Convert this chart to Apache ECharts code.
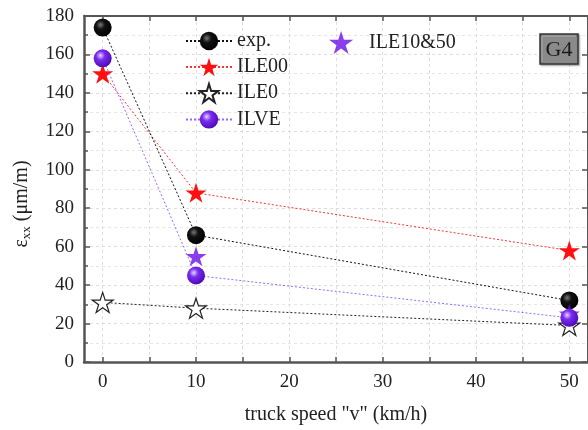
<!DOCTYPE html>
<html><head><meta charset="utf-8">
<script src="https://cdn.jsdelivr.net/npm/echarts@6/dist/echarts.min.js"></script>
<style>html,body{margin:0;padding:0;background:#fff}#c{width:588px;height:430px}</style>
</head><body><div id="c"></div>
<script>
const speeds = [0, 10, 50];
const expVals = [174, 66, 32];
const ile00Vals = [150, 88, 58];
const ile0Vals = [31, 28, 19];
const ilveVals = [158, 45, 23];
const ile1050Speeds = [10, 50];
const ile1050Vals = [55, 25];
const xTicks = [0, 10, 20, 30, 40, 50];
const xMinor = [0, 5, 10, 15, 20, 25, 30, 35, 40, 45, 50];

const STAR = 'path://M50 0 L61.2 34.6 L97.6 34.5 L68.1 55.9 L79.4 90.5 L50 69 L20.6 90.5 L31.9 55.9 L2.4 34.5 L38.8 34.6 Z';
const FONT = 'Liberation Serif';
const pairs = (xs, ys) => xs.map((x, i) => [x, ys[i]]);
const sphere = (light, mid, dark) => ({type:'radial', x:0.38, y:0.35, r:0.7,
  colorStops:[{offset:0,color:light},{offset:0.35,color:mid},{offset:1,color:dark}]});

const chart = echarts.init(document.getElementById('c'));
const axisCol = '#555';
chart.setOption({
  animation:false,
  textStyle:{fontFamily:FONT},
  grid:{left:84, right:-4, top:16, bottom:67},
  xAxis:[{
    type:'value', min:-2, max:52, position:'bottom',
    name:'truck speed "v" (km/h)', nameLocation:'middle', nameGap:43,
    nameTextStyle:{fontFamily:FONT, fontSize:20, color:'#222'},
    axisLine:{show:true, onZero:false, lineStyle:{color:axisCol, width:2.5}},
    axisTick:{show:true, inside:true, length:5, customValues:xMinor, lineStyle:{color:axisCol, width:1.5}},
    axisLabel:{customValues:xTicks, fontFamily:FONT, fontSize:19, color:'#222', margin:11},
    splitLine:{show:true, lineStyle:{color:'#ddd', type:[3,3], width:1}}
  },{
    type:'value', min:-2, max:52, position:'top',
    axisLine:{show:true, onZero:false, lineStyle:{color:axisCol, width:2}},
    axisTick:{show:true, inside:true, length:5, customValues:xMinor, lineStyle:{color:axisCol, width:1.5}},
    axisLabel:{show:false}, splitLine:{show:false}
  }],
  yAxis:[{
    type:'value', min:0, max:180, interval:20, position:'left',
    name:'{e|ε}{s|xx}{e| (μm/m)}', nameLocation:'middle', nameGap:51, nameRotate:90,
    nameTextStyle:{padding:[0,30,0,0], rich:{
      e:{fontFamily:FONT, fontSize:20, color:'#222'},
      s:{fontFamily:FONT, fontSize:13, color:'#222', verticalAlign:'bottom', padding:[9,0,0,0]}
    }},
    axisLine:{show:true, onZero:false, lineStyle:{color:axisCol, width:2.5}},
    axisTick:{show:true, inside:true, length:6, lineStyle:{color:axisCol, width:1.5}},
    minorTick:{show:true, splitNumber:2, length:4, lineStyle:{color:axisCol, width:1.5}},
    axisLabel:{fontFamily:FONT, fontSize:19, color:'#222', margin:10},
    splitLine:{show:true, lineStyle:{color:'#ddd', type:[3,3], width:1}},
    minorSplitLine:{show:true, lineStyle:{color:'#e6e6e6', type:[3,3], width:1}}
  },{
    type:'value', min:0, max:180, interval:20, position:'right',
    axisLine:{show:true, onZero:false, lineStyle:{color:axisCol, width:2}},
    axisTick:{show:true, inside:true, length:6, lineStyle:{color:axisCol, width:1.5}},
    axisLabel:{show:false}, splitLine:{show:false}
  }],
  legend:[{
    orient:'vertical', left:180, top:26, itemWidth:46, itemHeight:23, itemGap:6,
    textStyle:{fontFamily:FONT, fontSize:20, color:'#222'},
    data:['exp.','ILE00','ILE0','ILVE']
  },{
    orient:'vertical', left:324, top:26, itemWidth:46, itemHeight:23,
    textStyle:{fontFamily:FONT, fontSize:20, color:'#222'},
    data:['ILE10&50']
  }],
  graphic:[
    {type:'rect', x:540, y:34, shape:{x:0,y:0,width:38,height:30},
     style:{fill:'#8a8a8a', stroke:'#3a3a3a', lineWidth:1.5, shadowBlur:2, shadowColor:'rgba(0,0,0,0.35)', shadowOffsetX:1, shadowOffsetY:1}, z:10},
    {type:'polyline', x:540, y:34, shape:{points:[[2,28],[2,2],[36,2]]}, style:{stroke:'#b8b8b8', lineWidth:1, fill:null}, z:11},
    {type:'text', x:559, y:50, style:{text:'G4', fontFamily:FONT, fontSize:22, fill:'#1a1a1a', align:'center', verticalAlign:'middle'}, z:12}
  ],
  series:[
    {name:'exp.', type:'line', data:pairs(speeds, expVals), symbol:'circle', symbolSize:18,
     lineStyle:{color:'#111', width:1, type:[2,2]},
     itemStyle:{color:sphere('#777','#111','#000')}, z:5},
    {name:'ILE00', type:'line', data:pairs(speeds, ile00Vals), symbol:STAR, symbolSize:21, symbolKeepAspect:true,
     lineStyle:{color:'#ff3030', width:1, type:[2,2]},
     itemStyle:{color:'#ff1010'}, z:4},
    {name:'ILE0', type:'line', data:pairs(speeds, ile0Vals), symbol:STAR, symbolSize:21, symbolKeepAspect:true,
     lineStyle:{color:'#222', width:1, type:[2,2]},
     itemStyle:{color:'#fff', borderColor:'#222', borderWidth:1.2}, z:3},
    {name:'ILVE', type:'line', data:pairs(speeds, ilveVals), symbol:'circle', symbolSize:18,
     lineStyle:{color:'#9a66ff', width:1, type:[2,2]},
     itemStyle:{color:sphere('#e6d6ff','#7a2cf0','#4a08b0')}, z:6},
    {name:'ILE10&50', type:'scatter', data:pairs(ile1050Speeds, ile1050Vals), symbol:STAR, symbolSize:21, symbolKeepAspect:true,
     itemStyle:{color:'#6a10e8'}, z:5}
  ]
});
</script></body></html>
